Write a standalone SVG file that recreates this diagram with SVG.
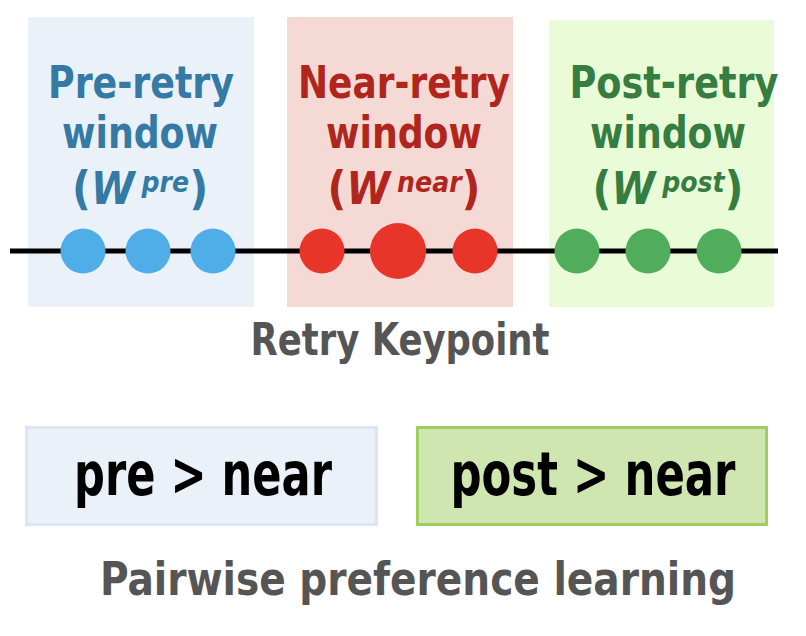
<svg xmlns="http://www.w3.org/2000/svg" width="806" height="636" viewBox="0 0 806 636">
<style>
text{font-family:"Liberation Sans Narrow","DejaVu Sans Condensed","Liberation Sans",sans-serif;font-weight:bold;text-anchor:middle}
.t{font-size:45px}
.p{font-size:46px}
.sub{font-size:28px;font-style:italic}
.w{font-style:italic;font-size:44px}
.blue{fill:#3579a5}.red{fill:#b0261c}.green{fill:#357d40}
.gray{fill:#555555}
</style>
<rect width="806" height="636" fill="#ffffff"/>
<g id="pre-window">
<rect x="28" y="17" width="226" height="290" fill="#eaf1f8"/>
<text class="t blue" x="141" y="98" textLength="186" lengthAdjust="spacingAndGlyphs">Pre-retry</text>
<text class="t blue" x="140" y="148" textLength="156" lengthAdjust="spacingAndGlyphs">window</text>
<text class="t blue" x="140" y="204"><tspan class="p">(</tspan><tspan class="w">W</tspan><tspan class="sub" dx="7" dy="-12">pre</tspan><tspan class="p" dy="12">)</tspan></text>
</g>
<g id="near-window">
<rect x="287" y="17" width="226" height="290" fill="#f5d9d5"/>
<text class="t red" x="404" y="98" textLength="212" lengthAdjust="spacingAndGlyphs">Near-retry</text>
<text class="t red" x="404" y="148" textLength="156" lengthAdjust="spacingAndGlyphs">window</text>
<text class="t red" x="404" y="204"><tspan class="p">(</tspan><tspan class="w">W</tspan><tspan class="sub" dx="7" dy="-12">near</tspan><tspan class="p" dy="12">)</tspan></text>
</g>
<g id="post-window">
<rect x="549" y="20" width="225" height="287" fill="#eafbd7"/>
<text class="t green" x="674" y="98" textLength="209" lengthAdjust="spacingAndGlyphs">Post-retry</text>
<text class="t green" x="668" y="148" textLength="156" lengthAdjust="spacingAndGlyphs">window</text>
<text class="t green" x="668" y="204"><tspan class="p">(</tspan><tspan class="w">W</tspan><tspan class="sub" dx="7" dy="-12">post</tspan><tspan class="p" dy="12">)</tspan></text>
</g>
<g id="connectors">
<line x1="10" y1="251" x2="778" y2="251" stroke="#000" stroke-width="5"/>
</g>
<g id="points">
<circle cx="83" cy="251" r="22.5" fill="#4faee8"/>
<circle cx="148" cy="251" r="22.5" fill="#4faee8"/>
<circle cx="213" cy="251" r="22.5" fill="#4faee8"/>
<circle cx="322" cy="251" r="22.5" fill="#e8352a"/>
<circle cx="398" cy="251" r="28" fill="#e8352a"/>
<circle cx="475" cy="251" r="22.5" fill="#e8352a"/>
<circle cx="577" cy="251" r="22.5" fill="#4fad5b"/>
<circle cx="648" cy="251" r="22.5" fill="#4fad5b"/>
<circle cx="719" cy="251" r="22.5" fill="#4fad5b"/>
</g>
<g id="retry-keypoint">
<text class="t gray" x="400" y="355" textLength="299" lengthAdjust="spacingAndGlyphs">Retry Keypoint</text>
</g>
<g id="pre-near">
<rect x="26.5" y="427.5" width="350" height="97" fill="#eaf1f8" stroke="#dce7f3" stroke-width="3"/>
<text x="203" y="495" font-size="60" fill="#000" textLength="258" lengthAdjust="spacingAndGlyphs">pre &gt; near</text>
</g>
<g id="post-near">
<rect x="417.5" y="427.5" width="349" height="97" fill="#d0e6b0" stroke="#9ccf5e" stroke-width="3"/>
<text x="593" y="495" font-size="60" fill="#000" textLength="285" lengthAdjust="spacingAndGlyphs">post &gt; near</text>
</g>
<g id="pairwise">
<text class="gray" x="418" y="595" font-size="46" textLength="636" lengthAdjust="spacingAndGlyphs">Pairwise preference learning</text>
</g>
</svg>
